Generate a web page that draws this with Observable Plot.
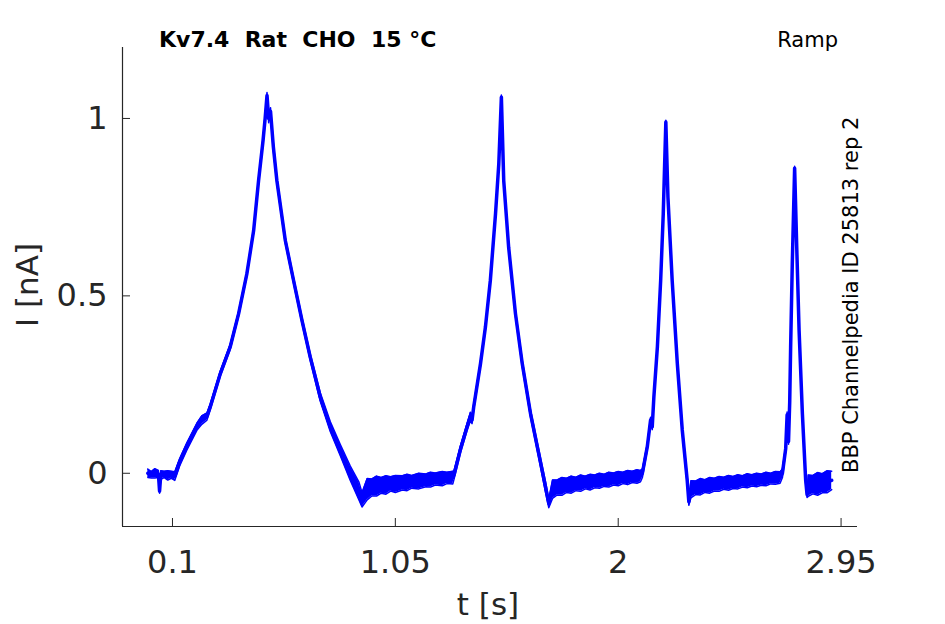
<!DOCTYPE html>
<html><head><meta charset="utf-8">
<script src="https://cdn.jsdelivr.net/npm/d3@7"></script>
<script src="https://cdn.jsdelivr.net/npm/@observablehq/plot@0.6"></script>
<style>body{margin:0;background:#fff} svg{display:block}</style>
</head><body><div id="chart"></div>
<script>
// time [s]
const tValues = [
  -0.005, 0.01, 0.025, 0.04, 0.045, 0.05, 0.065, 0.08, 0.095, 0.11,
  0.13, 0.161, 0.204, 0.225, 0.247, 0.261, 0.304, 0.346, 0.382, 0.417, 0.446, 0.467, 0.486, 0.495, 0.503,
  0.51, 0.518, 0.53, 0.545, 0.581, 0.616, 0.652, 0.687, 0.730, 0.773, 0.815, 0.858, 0.895, 0.908,
  0.93, 0.95, 0.97, 0.99, 1.01, 1.03, 1.05, 1.08, 1.10, 1.12, 1.15, 1.18, 1.20, 1.22, 1.25, 1.27, 1.295,
  1.30, 1.327, 1.356, 1.37, 1.377, 1.384, 1.413, 1.434, 1.455, 1.477, 1.491, 1.502,
  1.512, 1.533, 1.562, 1.591, 1.626, 1.661, 1.69, 1.704,
  1.72, 1.74, 1.76, 1.78, 1.80, 1.82, 1.84, 1.86, 1.88, 1.90, 1.92, 1.94, 1.96, 1.98, 2.0, 2.02, 2.04, 2.06, 2.08, 2.095,
  2.103, 2.124, 2.138, 2.145, 2.152, 2.167, 2.181, 2.192, 2.203,
  2.212, 2.230, 2.252, 2.273, 2.294, 2.301,
  2.31, 2.33, 2.35, 2.37, 2.39, 2.41, 2.43, 2.45, 2.47, 2.49, 2.51, 2.53, 2.55, 2.57, 2.59, 2.61, 2.63, 2.65, 2.67, 2.69,
  2.70, 2.714, 2.72, 2.726, 2.731, 2.735, 2.742, 2.752,
  2.761, 2.771, 2.785, 2.799, 2.805,
  2.81, 2.83, 2.85, 2.87, 2.89, 2.91
];
// mean current [nA]
const currentValues = [
  0.0, -0.004, 0.0, -0.002, -0.05, -0.005, -0.003, -0.006, -0.004, -0.008,
  0.03, 0.075, 0.131, 0.15, 0.16, 0.187, 0.281, 0.356, 0.45, 0.562, 0.684, 0.825, 0.937, 1.0, 1.065,
  1.0, 1.02, 0.92, 0.825, 0.656, 0.544, 0.431, 0.328, 0.215, 0.131, 0.066, 0.0, -0.05, -0.075,
  -0.045, -0.04, -0.036, -0.034, -0.033, -0.03, -0.03, -0.027, -0.026, -0.024, -0.022, -0.02, -0.018, -0.016, -0.015, -0.013, -0.012,
  -0.005, 0.066, 0.131, 0.16, 0.15, 0.187, 0.309, 0.412, 0.544, 0.731, 0.872, 1.06,
  0.825, 0.637, 0.45, 0.309, 0.169, 0.056, -0.038, -0.085,
  -0.045, -0.04, -0.037, -0.034, -0.032, -0.03, -0.028, -0.026, -0.025, -0.023, -0.021, -0.02, -0.018, -0.016, -0.015, -0.013, -0.012, -0.01, -0.009, -0.008,
  0.0, 0.075, 0.15, 0.131, 0.215, 0.356, 0.544, 0.731, 0.99,
  0.778, 0.544, 0.309, 0.122, -0.019, -0.08,
  -0.045, -0.041, -0.038, -0.036, -0.034, -0.032, -0.03, -0.028, -0.027, -0.026, -0.024, -0.023, -0.021, -0.02, -0.019, -0.018, -0.016, -0.015, -0.013, -0.012,
  0.0, 0.07, 0.165, 0.09, 0.2, 0.356, 0.59, 0.86,
  0.637, 0.403, 0.169, -0.019, -0.06,
  -0.035, -0.032, -0.03, -0.028, -0.024, -0.02
];
// half-width of the band of overlaid sweeps [nA]
const spreadValues = [
  0.012, 0.009, 0.013, 0.01, 0.006, 0.012, 0.009, 0.013, 0.01, 0.012,
  0.01, 0.01, 0.01, 0.012, 0.01, 0.008, 0.007, 0.007, 0.006, 0.006, 0.006, 0.007, 0.008, 0.01, 0.008,
  0.012, 0.01, 0.01, 0.008, 0.008, 0.008, 0.008, 0.009, 0.012, 0.014, 0.016, 0.02, 0.025, 0.02,
  0.03, 0.024, 0.028, 0.022, 0.026, 0.02, 0.024, 0.02, 0.023, 0.018, 0.022, 0.018, 0.021, 0.017, 0.02, 0.016, 0.018,
  0.012, 0.01, 0.01, 0.012, 0.01, 0.008, 0.006, 0.006, 0.006, 0.006, 0.006, 0.006,
  0.006, 0.007, 0.008, 0.009, 0.01, 0.012, 0.015, 0.012,
  0.026, 0.021, 0.025, 0.02, 0.024, 0.019, 0.023, 0.018, 0.022, 0.018, 0.021, 0.017, 0.021, 0.017, 0.02, 0.016, 0.02, 0.016, 0.019, 0.016,
  0.012, 0.008, 0.008, 0.008, 0.006, 0.006, 0.006, 0.006, 0.005,
  0.006, 0.006, 0.007, 0.008, 0.01, 0.01,
  0.024, 0.019, 0.023, 0.018, 0.022, 0.018, 0.021, 0.017, 0.021, 0.017, 0.02, 0.016, 0.02, 0.016, 0.019, 0.016, 0.019, 0.015, 0.018, 0.016,
  0.012, 0.008, 0.008, 0.008, 0.006, 0.006, 0.005, 0.005,
  0.005, 0.006, 0.007, 0.01, 0.008,
  0.03, 0.026, 0.032, 0.027, 0.031, 0.026
];
const xTicks = [0.1, 1.05, 2, 2.95];
const yTicks = [0, 0.5, 1];
const xDomain = [-0.113, 3.02];
const yDomain = [-0.15, 1.2];
const titleText = "Kv7.4  Rat  CHO  15 °C";
const protocolText = "Ramp";
const sourceText = "BBP Channelpedia ID 25813 rep 2";
const xLabel = "t [s]";
const yLabel = "I [nA]";

const data = tValues.map((t, i) => ({
  t, y: currentValues[i], lo: currentValues[i] - spreadValues[i], hi: currentValues[i] + spreadValues[i]
}));
const blue = "#0000ff", ink = "#262626";

const chart = Plot.plot({
  width: 945, height: 624,
  marginLeft: 122, marginRight: 88, marginTop: 47, marginBottom: 98,
  x: {domain: xDomain},
  y: {domain: yDomain},
  style: {fontFamily: "DejaVu Sans", color: ink, background: "white"},
  marks: [
    Plot.areaY(data, {x: "t", y1: "lo", y2: "hi", fill: blue}),
    Plot.line(data, {x: "t", y: "lo", stroke: blue, strokeWidth: 1.5}),
    Plot.line(data, {x: "t", y: "hi", stroke: blue, strokeWidth: 1.5}),
    Plot.line(data, {x: "t", y: "y", stroke: blue, strokeWidth: 3.5}),
    Plot.ruleX([xDomain[0]], {stroke: ink, strokeWidth: 1.2}),
    Plot.ruleY([yDomain[0]], {stroke: ink, strokeWidth: 1.2}),
    Plot.axisX({ticks: xTicks, tickSize: -8, tickFormat: () => "", label: null, stroke: ink}),
    Plot.axisX({ticks: xTicks, tickSize: 0, tickPadding: 24, fontSize: 32, label: null, fill: ink, tickFormat: d => String(d)}),
    Plot.axisY({ticks: yTicks, tickSize: -8, tickFormat: () => "", label: null, stroke: ink}),
    Plot.axisY({ticks: yTicks, tickSize: 0, tickPadding: 15, fontSize: 32, label: null, fill: ink, tickFormat: d => String(d)})
  ]
});
document.getElementById("chart").appendChild(chart);

const svg = d3.select(chart);
function addText(txt, x, y, opts = {}) {
  const el = svg.append("text")
    .attr("x", x).attr("y", y)
    .attr("xml:space", "preserve")
    .style("white-space", "pre")
    .attr("font-family", "DejaVu Sans")
    .attr("font-size", opts.size || 20)
    .attr("font-weight", opts.weight || "normal")
    .attr("fill", opts.fill || "black")
    .attr("text-anchor", opts.anchor || "start")
    .text(txt);
  if (opts.rotate) el.attr("transform", `rotate(${opts.rotate},${x},${y})`);
  return el;
}
addText(titleText, 159, 47, {size: 22, weight: "bold"});
addText(protocolText, 838, 47, {size: 21, anchor: "end"});
addText(sourceText, 858, 473, {size: 21, rotate: -90});
addText(xLabel, 488, 615, {size: 31, anchor: "middle", fill: ink});
addText(yLabel, 37.5, 285, {size: 31, anchor: "middle", fill: ink, rotate: -90});
</script>
</body></html>
